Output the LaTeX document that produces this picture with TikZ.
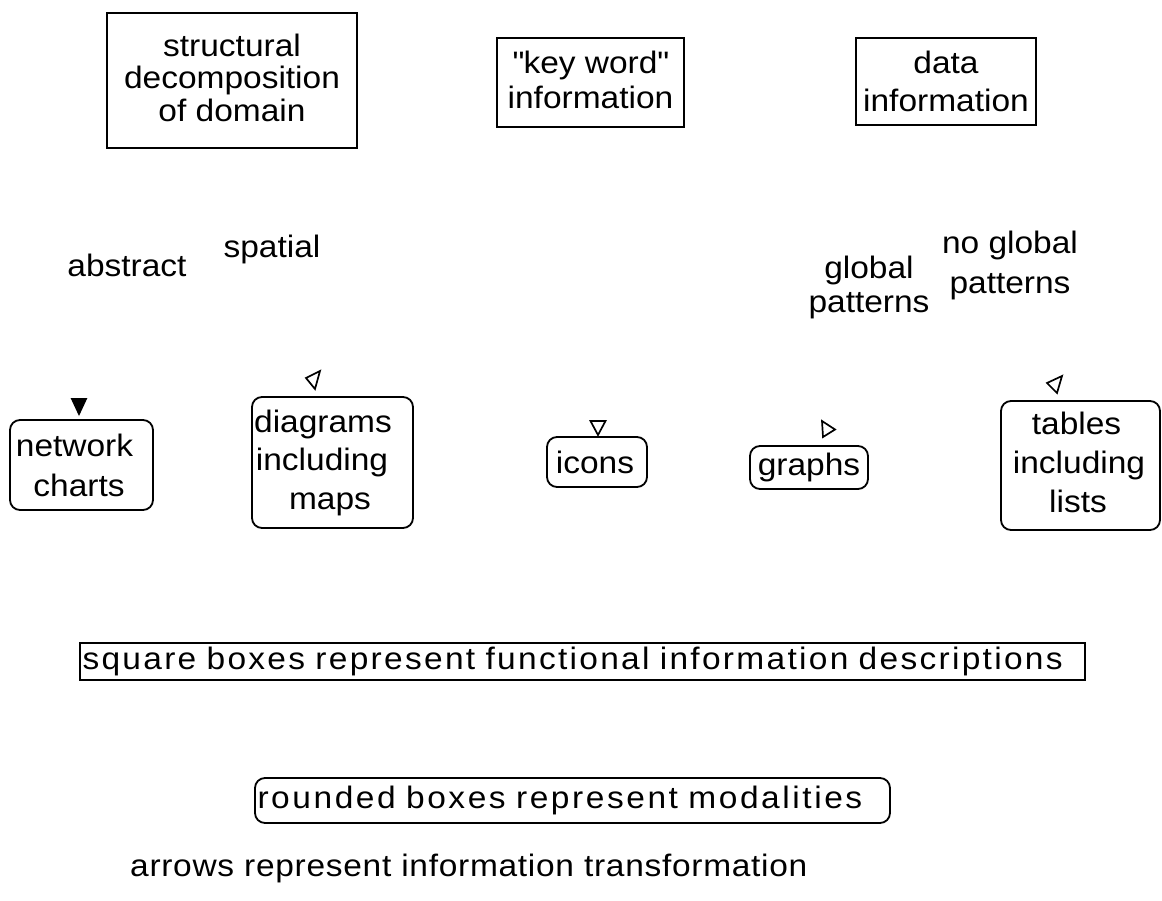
\documentclass[tikz,border=0pt]{standalone}
\usepackage{fontspec}
\setmainfont{Liberation Sans}[FakeStretch=1.08]
\newcommand\diafont{\fontsize{31}{32.5}\selectfont}
\newcommand\spread[1]{\addfontfeature{LetterSpace=#1}}
% invisible padding: \pad{w} widens a line, \lift{d} deepens the last line
\newcommand\pad[1]{\rule{#1}{0pt}}
\newcommand\lift[1]{\rule[-#1]{0pt}{0pt}}
\tikzset{
  every node/.style={font=\diafont, inner sep=0pt, align=center},
  lines/.style={font={\fontsize{31}{#1}\selectfont}},
  functionbox/.style={draw, line width=2.6pt},
  modalitybox/.style={draw, line width=1.8pt, rounded corners=10pt},
  plainlabel/.style={},
  headtip/.style={draw, line width=1.7pt, line join=miter, fill=white},
  headsolid/.style={draw, line width=1.7pt, line join=miter, fill=black},
}
\begin{document}
\begin{tikzpicture}[x=1pt, y=-1pt]
\useasboundingbox (0,0) rectangle (1162,901);

% functional information descriptions
\node[functionbox, lines=32.5, minimum width=250pt, minimum height=135pt] (struct) at (232,80.5)
  {structural\\decomposition\\of domain\lift{6pt}};
\node[functionbox, lines=35, minimum width=187pt, minimum height=89pt] (keyword) at (590.5,82.5)
  {\textquotedbl key word\textquotedbl\\information\lift{6pt}};
\node[functionbox, lines=38, minimum width=180pt, minimum height=87pt] (data) at (946,81.5)
  {data\\information};

% branch labels
\node[plainlabel] (abstract) at (127,265) {abstract};
\node[plainlabel] (spatial) at (272,249) {spatial};
\node[plainlabel, lines=34] (global) at (869,287) {global\\patterns};
\node[plainlabel, lines=40] (noglobal) at (1010,265) {no global\\patterns};

% modalities
\node[modalitybox, lines=40, minimum width=143pt, minimum height=90pt] (network) at (81.5,465)
  {network\pad{14pt}\\charts\pad{5pt}};
\node[modalitybox, lines=38.5, minimum width=161pt, minimum height=131pt] (diagrams) at (332.5,462.5)
  {diagrams\pad{19pt}\\including\pad{21pt}\\maps\pad{5pt}};
\node[modalitybox, minimum width=100pt, minimum height=50pt] (icons) at (597,462)
  {icons\pad{4pt}};
\node[modalitybox, minimum width=118pt, minimum height=43pt] (graphs) at (809,467.5)
  {graphs};
\node[modalitybox, lines=39, minimum width=159pt, minimum height=129pt] (tables) at (1080.5,465.5)
  {tables\pad{8pt}\\including\pad{3pt}\\lists\pad{5pt}\lift{6pt}};

% arrowheads of the information transformations
\coordinate (tipnet) at (79,414);
\coordinate (tipdia) at (315,389);
\coordinate (tipicon) at (598,435);
\coordinate (tipgraph) at (823,437);
\coordinate (tiptab) at (1057,393);
\draw[headsolid] (tipnet) -- ++(-7,-15) -- ++(14,0) -- cycle;
\draw[headtip] (tipdia) -- ++(-9,-11) -- ++(14,-7) -- cycle;
\draw[headtip] (tipicon) -- ++(-7.5,-14) -- ++(15,0) -- cycle;
\draw[headtip] (tipgraph) -- ++(-1,-16) -- ++(13,8.5) -- cycle;
\draw[headtip] (tiptab) -- ++(-10,-10) -- ++(15,-7) -- cycle;

% legend
\node[functionbox, minimum width=1005pt, minimum height=37pt, align=left,
      text width=1000pt] (legsquare) at (582.5,661.5)
  {\spread{7.4}square boxes represent functional information descriptions};
\node[modalitybox, minimum width=635pt, minimum height=45pt, align=left,
      text width=630pt] (leground) at (572.5,800.5)
  {\spread{8.3}rounded boxes represent modalities};
\node[plainlabel, anchor=west, font=\diafont\spread{2.3}] (legarrow) at (130,868)
  {arrows represent information transformation};
\end{tikzpicture}
\end{document}
